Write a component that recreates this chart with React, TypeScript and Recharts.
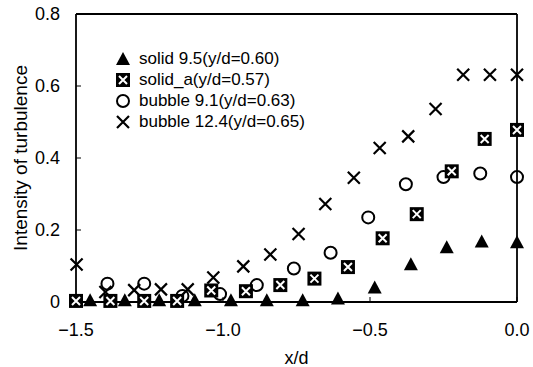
import React from "react";
import { ScatterChart, Scatter, XAxis, YAxis, ReferenceLine, Legend } from "recharts";

const xTicks = [-1.5, -1.0, -0.5, 0];
const xTickLabels = ["−1.5", "−1.0", "−0.5", "0.0"];
const yTicks = [0, 0.2, 0.4, 0.6, 0.8];
const yTickLabels = ["0", "0.2", "0.4", "0.6", "0.8"];

const seriesNames = [
  "solid 9.5(y/d=0.60)",
  "solid_a(y/d=0.57)",
  "bubble 9.1(y/d=0.63)",
  "bubble 12.4(y/d=0.65)",
];

// solid 9.5 (triangles)
const solidX = [-1.452, -1.334, -1.217, -1.096, -0.973, -0.851, -0.729, -0.609, -0.484, -0.361, -0.239, -0.12, 0];
const solidY = [0.005, 0.005, 0.005, 0.005, 0.005, 0.005, 0.005, 0.01, 0.04, 0.105, 0.152, 0.168, 0.166];

// solid_a (boxed crosses)
const solidAX = [-1.5, -1.383, -1.268, -1.156, -1.04, -0.922, -0.805, -0.689, -0.575, -0.457, -0.341, -0.222, -0.11, 0];
const solidAY = [0.003, 0.003, 0.003, 0.003, 0.032, 0.03, 0.047, 0.065, 0.097, 0.177, 0.244, 0.363, 0.453, 0.478];

// bubble 9.1 (open circles)
const bub91X = [-1.393, -1.268, -1.138, -1.01, -0.885, -0.759, -0.634, -0.506, -0.378, -0.25, -0.125, 0];
const bub91Y = [0.051, 0.051, 0.017, 0.022, 0.047, 0.093, 0.137, 0.235, 0.327, 0.347, 0.357, 0.347];

// bubble 12.4 (crosses)
const bub124X = [-1.498, -1.4, -1.302, -1.211, -1.12, -1.033, -0.931, -0.839, -0.743, -0.652, -0.555, -0.467, -0.37, -0.277, -0.183, -0.092, 0];
const bub124Y = [0.104, 0.028, 0.033, 0.035, 0.035, 0.068, 0.099, 0.132, 0.189, 0.272, 0.345, 0.428, 0.46, 0.536, 0.631, 0.631, 0.631];

const zip = (xs: number[], ys: number[]) => xs.map((x, i) => ({ x, y: ys[i] }));

const FONT = "Arial, 'Liberation Sans', sans-serif";

const Triangle = ({ cx, cy }: any) => (
  <polygon points={`${cx},${cy - 7} ${cx - 7},${cy + 6} ${cx + 7},${cy + 6}`} fill="#000" />
);

const BoxCross = ({ cx, cy }: any) => (
  <g>
    <rect x={cx - 7} y={cy - 7} width={14} height={14} fill="#000" />
    <path d={`M${cx - 4},${cy - 4}L${cx + 4},${cy + 4}M${cx + 4},${cy - 4}L${cx - 4},${cy + 4}`} stroke="#fff" strokeWidth={2} />
  </g>
);

const Ring = ({ cx, cy }: any) => (
  <circle cx={cx} cy={cy} r={6} fill="none" stroke="#000" strokeWidth={2} />
);

const Cross = ({ cx, cy }: any) => (
  <path d={`M${cx - 6},${cy - 6}L${cx + 6},${cy + 6}M${cx + 6},${cy - 6}L${cx - 6},${cy + 6}`} stroke="#000" strokeWidth={2.2} />
);

const shapes = [Triangle, BoxCross, Ring, Cross];

const LegendBox = () => (
  <div style={{ fontFamily: FONT, fontSize: 17, color: "#000" }}>
    {seriesNames.map((name, i) => {
      const Shape = shapes[i];
      return (
        <div key={name} style={{ display: "flex", alignItems: "center", height: 21 }}>
          <svg width={16} height={16} style={{ marginRight: 8 }}>
            <Shape cx={8} cy={8} />
          </svg>
          <span>{name}</span>
        </div>
      );
    })}
  </div>
);

export default function App() {
  return (
    <div style={{ position: "absolute", left: 0, top: 0, width: 533, height: 367, background: "#fff" }}>
      <ScatterChart width={533} height={367} margin={{ top: 14, right: 16, left: 0, bottom: 0 }}>
        <XAxis
          type="number"
          dataKey="x"
          domain={[-1.5, 0]}
          ticks={xTicks}
          tickFormatter={(v: number) => xTickLabels[xTicks.indexOf(v)]}
          height={65}
          stroke="#000"
          tickSize={-5}
          tickMargin={26}
          axisLine={{ stroke: "#000", strokeWidth: 1.8 }}
          tickLine={{ stroke: "#000" }}
          tick={{ fill: "#000", fontSize: 18, fontFamily: FONT }}
          label={{
            content: ({ viewBox }: any) => (
              <text x={viewBox.x + viewBox.width / 2} y={viewBox.y + 62} textAnchor="middle" fontSize={18} fontFamily={FONT} fill="#000">
                x/d
              </text>
            ),
          }}
        />
        <YAxis
          type="number"
          dataKey="y"
          domain={[0, 0.8]}
          ticks={yTicks}
          tickFormatter={(v: number) => yTickLabels[yTicks.indexOf(v)]}
          width={76}
          stroke="#000"
          tickSize={-5}
          tickMargin={21}
          axisLine={{ stroke: "#000", strokeWidth: 1.8 }}
          tickLine={{ stroke: "#000" }}
          tick={{ fill: "#000", fontSize: 18, fontFamily: FONT }}
          label={{
            content: ({ viewBox }: any) => {
              const lx = viewBox.x + 20;
              const ly = viewBox.y + viewBox.height / 2;
              return (
                <text x={lx} y={ly} transform={`rotate(-90 ${lx} ${ly})`} textAnchor="middle" dominantBaseline="central" fontSize={19} fontFamily={FONT} fill="#000">
                  Intensity of turbulence
                </text>
              );
            },
          }}
        />
        <ReferenceLine y={0.8} stroke="#000" strokeWidth={1.8} />
        <ReferenceLine x={0} stroke="#000" strokeWidth={1.8} />
        <Scatter name={seriesNames[3]} data={zip(bub124X, bub124Y)} shape={Cross} isAnimationActive={false} />
        <Scatter name={seriesNames[2]} data={zip(bub91X, bub91Y)} shape={Ring} isAnimationActive={false} />
        <Scatter name={seriesNames[1]} data={zip(solidAX, solidAY)} shape={BoxCross} isAnimationActive={false} />
        <Scatter name={seriesNames[0]} data={zip(solidX, solidY)} shape={Triangle} isAnimationActive={false} />
        <Legend
          layout="vertical"
          align="center"
          verticalAlign="middle"
          content={() => <LegendBox />}
          wrapperStyle={{ left: 115, top: 48, width: "auto" }}
        />
      </ScatterChart>
    </div>
  );
}
